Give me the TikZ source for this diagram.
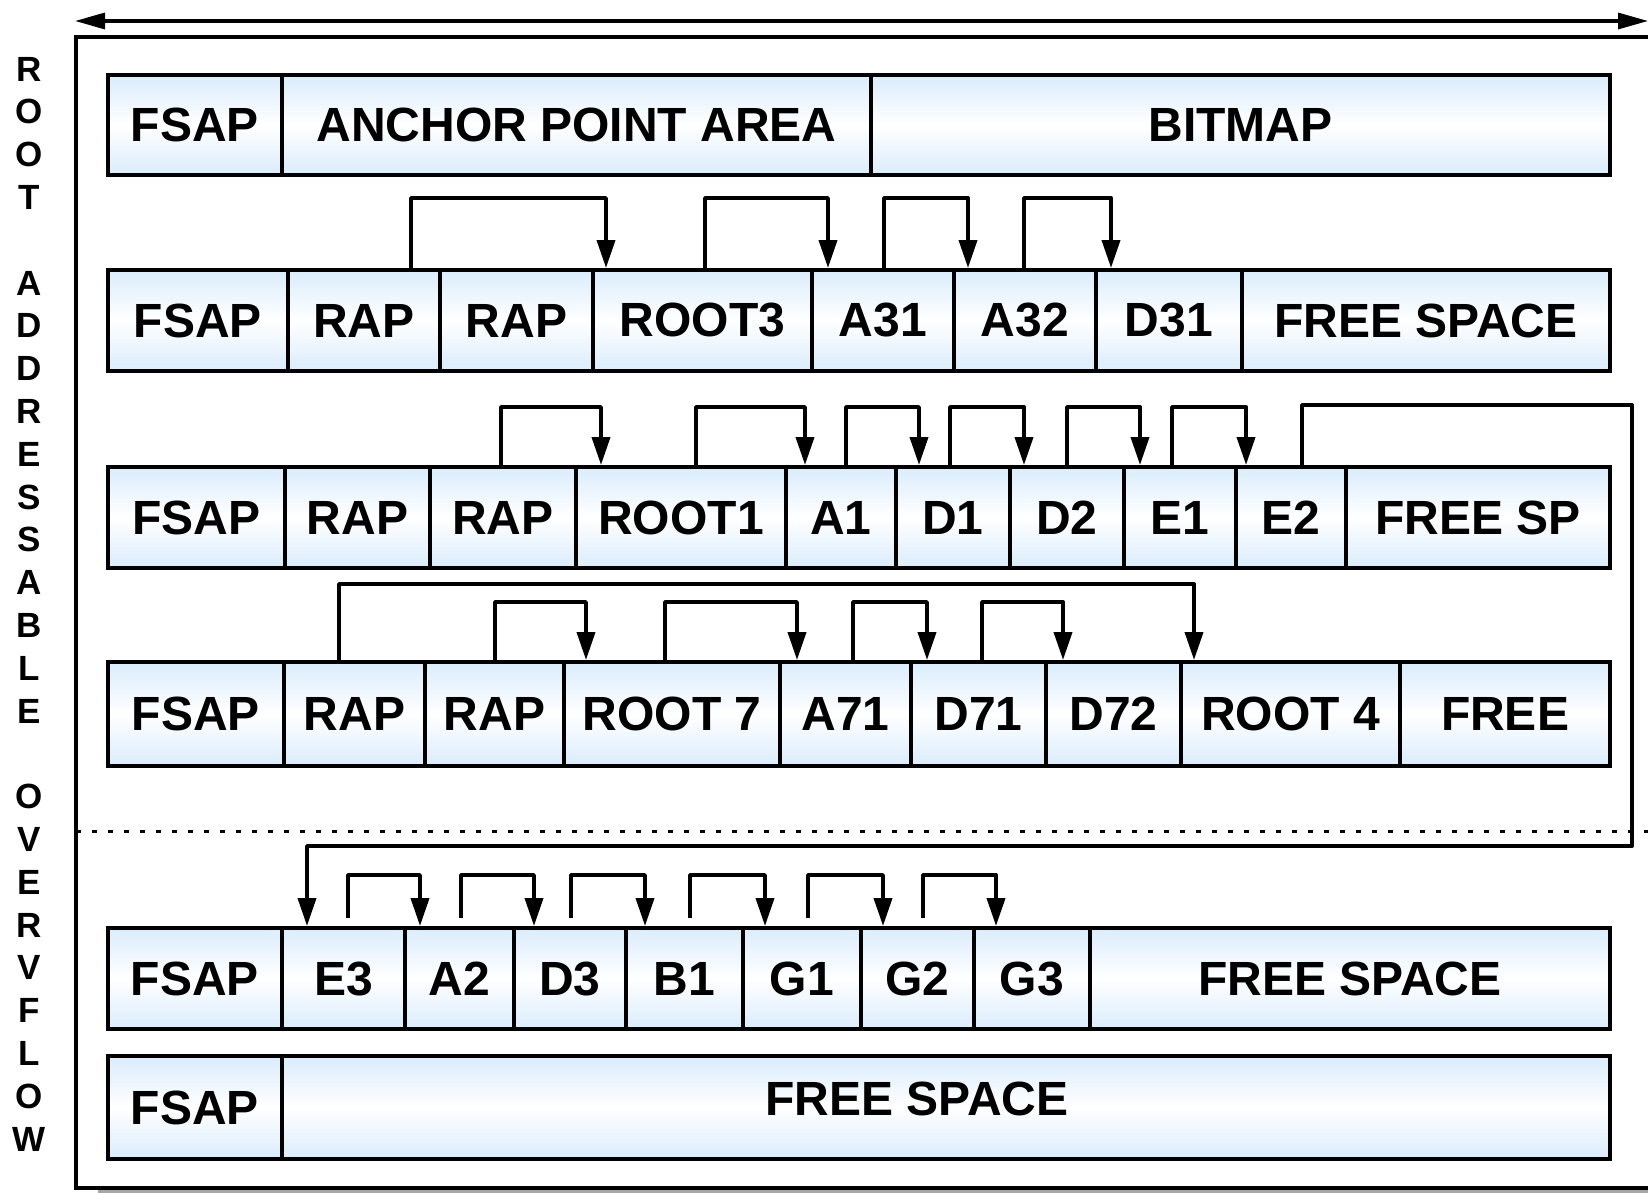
\documentclass[tikz,border=0pt]{standalone}
\usepackage{fontspec}
\setmainfont{Liberation Sans}
\usetikzlibrary{arrows.meta}
\definecolor{cellblue}{RGB}{218,236,252}

\begin{document}
\begin{tikzpicture}[
    x=0.5pt, y=-0.5pt,
    cell/.style={draw, line width=2pt, top color=cellblue, bottom color=cellblue,
                 middle color=white, inner sep=0pt,
                 font=\fontsize{24}{28}\selectfont\bfseries},
    side/.style={inner sep=0pt, font=\fontsize{17.5}{20}\selectfont\bfseries},
    link/.style={-{Triangle[length=14pt, width=9pt]}, line width=1.9pt, line join=round},
  ]
  \useasboundingbox (0,0) rectangle (1648,1193);

  % ---- frame and width arrow
  \fill[black!35] (98,1189) rectangle (1660,1196);
  \draw[fill=white, line width=1.8pt] (1660,37) -| (76,1188) -- (1660,1188);
  \coordinate (wl) at (75,21);
  \coordinate (wr) at (1648,21);
  \draw[{Triangle[length=15pt, width=8pt]}-{Triangle[length=15pt, width=8pt]}, line width=1.6pt] (wl) -- (wr);

  % ---- side label
  \foreach \c [count=\i from 0] in {R,O,O,T}
    \node[side] (s\i) at (29,{69+\i*42.8}) {\c};
  \foreach \c [count=\i from 5] in {A,D,D,R,E,S,S,A,B,L,E}
    \node[side] (s\i) at (29,{69+\i*42.8}) {\c};
  \foreach \c [count=\i from 17] in {O,V,E,R,V,F,L,O,W}
    \node[side] (s\i) at (29,{69+\i*42.8}) {\c};

  % ---- root addressable rows
  \foreach \n/\a/\b/\t in {a/108/282/FSAP, b/282/871/ANCHOR POINT AREA, c/871/1610/BITMAP}
    \node[cell, minimum width={(\b-\a)*0.5pt}, minimum height=50pt] (r1\n) at ({(\a+\b)/2},125) {\t};

  \foreach \n/\a/\b/\t in {a/108/288/FSAP, b/288/440/RAP, c/440/593/RAP, d/593/812/ROOT3,
                           e/812/954/A31, f/954/1096/A32, g/1096/1242/D31, h/1242/1610/FREE SPACE}
    \node[cell, minimum width={(\b-\a)*0.5pt}, minimum height=50.5pt] (r2\n) at ({(\a+\b)/2},320.5) {\t};

  \foreach \n/\a/\b/\t in {a/108/285/FSAP, b/285/430/RAP, c/430/576/RAP, d/576/786/ROOT1, e/786/896/A1,
                           f/896/1010/D1, g/1010/1124/D2, h/1124/1236/E1, i/1236/1346/E2, j/1346/1610/FREE SP}
    \node[cell, minimum width={(\b-\a)*0.5pt}, minimum height=50.5pt] (r3\n) at ({(\a+\b)/2},517.5) {\t};

  \foreach \n/\a/\b/\t in {a/108/284/FSAP, b/284/425/RAP, c/425/564/RAP, d/564/780/ROOT 7, e/780/911/A71,
                           f/911/1046/D71, g/1046/1181/D72, h/1181/1400/ROOT 4, i/1400/1610/FREE}
    \node[cell, minimum width={(\b-\a)*0.5pt}, minimum height=52pt] (r4\n) at ({(\a+\b)/2},714) {\t};

  % ---- overflow rows
  \draw[line width=1.5pt, dash pattern=on 2.5pt off 5.5pt] (76,831) -- (1648,831);

  \foreach \n/\a/\b/\t in {a/108/282/FSAP, b/282/405/E3, c/405/514/A2, d/514/626/D3, e/626/743/B1,
                           f/743/861/G1, g/861/974/G2, h/974/1090/G3, i/1090/1610/FREE SPACE}
    \node[cell, minimum width={(\b-\a)*0.5pt}, minimum height=50.5pt] (r5\n) at ({(\a+\b)/2},978.5) {\t};

  \node[cell, minimum width=87pt, minimum height=51.5pt] (r6a) at (195,1107.5) {FSAP};
  \node[cell, minimum width=664pt, minimum height=51.5pt] (r6b) at (946,1107.5)
    {\raisebox{9pt}{FREE SPACE}\kern29pt};

  % ---- chains
  \foreach \s/\xs/\t/\xt in {r2b/411/r2d/606, r2d/705/r2e/828, r2e/884/r2f/968, r2f/1024/r2g/1111}
    \draw[link] (\s.north -| \xs,0) |- (\xt,198) -- (\t.north -| \xt,0);

  \foreach \s/\xs/\t/\xt in {r3c/501/r3d/601, r3d/696/r3e/805, r3e/846/r3f/919,
                             r3f/950/r3g/1024, r3g/1067/r3h/1140, r3h/1172/r3i/1246}
    \draw[link] (\s.north -| \xs,0) |- (\xt,407) -- (\t.north -| \xt,0);
  \draw[link] (r3i.north -| 1302,0) |- (1632,405) |- (307,846) -- (r5b.north -| 307,0);

  \draw[link] (r4b.north -| 339,0) |- (1194,584) -- (r4h.north -| 1194,0);
  \foreach \s/\xs/\t/\xt in {r4c/495/r4d/586, r4d/665/r4e/797, r4e/853/r4f/927, r4f/982/r4g/1063}
    \draw[link] (\s.north -| \xs,0) |- (\xt,602) -- (\t.north -| \xt,0);

  \foreach \s/\xs/\t/\xt in {r5b/348/r5c/420, r5c/461/r5d/534, r5d/571/r5e/645,
                             r5e/690/r5f/765, r5f/808/r5g/883, r5g/923/r5h/996}
    \draw[link, shorten <=4pt] (\s.north -| \xs,0) |- (\xt,875) -- (\t.north -| \xt,0);
\end{tikzpicture}
\end{document}
